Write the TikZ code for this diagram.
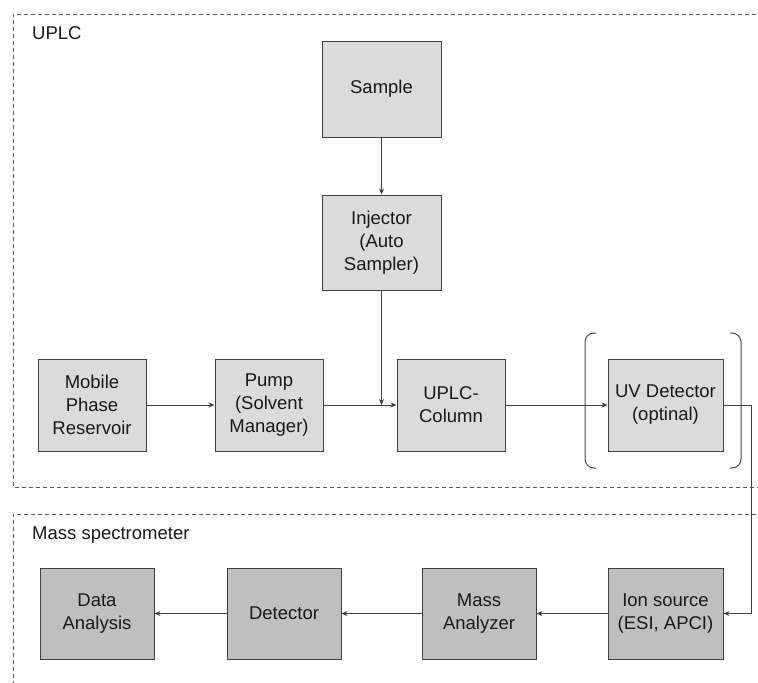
\documentclass[tikz,border=0pt]{standalone}
\usepackage{fontspec}
\setmainfont{Liberation Sans}
\usetikzlibrary{arrows.meta}
\begin{document}
\begin{tikzpicture}[x=1pt,y=-1pt,
  box/.style={draw=black!75,line width=1pt,inner sep=0pt,align=center,
    font=\fontsize{18.5}{23}\selectfont,text=black!90},
  lc/.style={box,fill=black!14},
  ms/.style={box,fill=black!25},
  arr/.style={draw=black!75,line width=0.9pt,-{Stealth[length=6pt,width=5pt]}},
  frame/.style={draw=black!65,line width=0.9pt,dash pattern=on 4pt off 3pt},
  lbl/.style={anchor=base west,font=\fontsize{18.5}{23}\selectfont,text=black!90,inner sep=0pt}]
\useasboundingbox (0,0) rectangle (758,683);
\clip (0,0) rectangle (758,683);
\draw[frame] (770,14) -- (13,14) -- (13,487) -- (770,487);
\draw[frame] (770,514) -- (13,514) -- (13,700);
\node[lbl] (t1) at (32,39) {UPLC};
\node[lbl] (t2) at (32,539) {Mass spectrometer};

\node[lc,minimum width=119pt,minimum height=96pt] (sample) at (381.5,89) {Sample};
\node[lc,minimum width=119pt,minimum height=95pt] (inj) at (381.5,242.5) {Injector\\(Auto\\Sampler)};
\node[lc,minimum width=108pt,minimum height=92pt] (mob) at (92,405) {Mobile\\Phase\\Reservoir};
\node[lc,minimum width=108pt,minimum height=92pt] (pump) at (269,405) {Pump\\(Solvent\\Manager)};
\node[lc,minimum width=108pt,minimum height=92pt] (col) at (451,405) {UPLC-\\Column};
\node[lc,minimum width=115pt,minimum height=92pt] (uv) at (665.5,405) {UV Detector\\(optinal)};

\node[ms,minimum width=115pt,minimum height=91pt] (ion) at (665.5,613.5) {Ion source\\(ESI, APCI)};
\node[ms,minimum width=114pt,minimum height=91pt] (man) at (479,613.5) {Mass\\Analyzer};
\node[ms,minimum width=114pt,minimum height=91pt] (det) at (284,613.5) {Detector};
\node[ms,minimum width=114pt,minimum height=91pt] (dat) at (97,613.5) {Data\\Analysis};

% brackets
\draw[draw=black!70,line width=1pt,rounded corners=9pt] (596,333) -- (585,333) -- (585,468) -- (596,468);
\draw[draw=black!70,line width=1pt,rounded corners=9pt] (730,333) -- (741,333) -- (741,468) -- (730,468);

\draw[arr] (sample) -- (inj);
\draw[arr] (mob) -- (pump);
\draw[arr] (pump) -- (col);
\draw[arr] (inj.south) -- (inj.south |- pump.east);
\draw[arr] (col) -- (uv);
\coordinate (turn) at (751,405);
\draw[arr] (uv.east) -- (turn) |- (ion.east);
\draw[arr] (ion) -- (man);
\draw[arr] (man) -- (det);
\draw[arr] (det) -- (dat);
\end{tikzpicture}
\end{document}
